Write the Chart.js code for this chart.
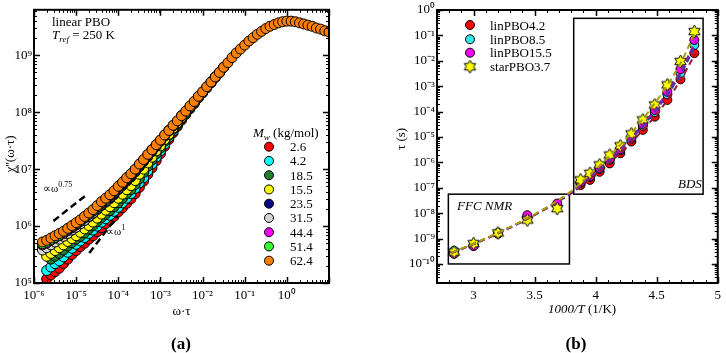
<!DOCTYPE html>
<html>
<head>
<meta charset="utf-8">
<script src="https://cdn.jsdelivr.net/npm/chart.js@4.4.0/dist/chart.umd.min.js"></script>
<style>
    html, body { margin: 0; padding: 0; background: #fff; overflow: hidden; }
    #wrap { position: relative; width: 726px; height: 353px; }
    #chartA { position: absolute; left: 0; top: 0; }
    #chartB { position: absolute; left: 360px; top: 0; }
</style>
</head>
<body>
<div id="wrap">
    <canvas id="chartA" width="360" height="353"></canvas>
    <canvas id="chartB" width="366" height="353"></canvas>
</div>
<script>
// ============================================================
// DATA - panel (a): log10(omega*tau) grid and log10(chi'') per Mw
// ============================================================
const logOmegaTau = [
    -5.8, -5.7, -5.6, -5.5, -5.4, -5.3, -5.2, -5.1, -5.0, -4.9,
    -4.8, -4.7, -4.6, -4.5, -4.4, -4.3, -4.2, -4.1, -4.0, -3.9,
    -3.8, -3.7, -3.6, -3.5, -3.4, -3.3, -3.2, -3.1, -3.0, -2.9,
    -2.8, -2.7, -2.6, -2.5, -2.4, -2.3, -2.2, -2.1, -2.0, -1.9,
    -1.8, -1.7, -1.6, -1.5, -1.4, -1.3, -1.2, -1.1, -1.0, -0.9,
    -0.8, -0.7, -0.6, -0.5, -0.4, -0.3, -0.2, -0.1, 0.0, 0.1,
    0.2, 0.3, 0.4, 0.5, 0.6, 0.7, 0.8, 0.9, 1.0
];

const chiMw2_6 = [
    null, 5.07, 5.14, 5.20, 5.26, 5.34, 5.42, 5.50, 5.57, 5.64,
    5.70, 5.77, 5.83, 5.90, 5.97, 6.04, 6.10, 6.17, 6.25, 6.32,
    6.40, 6.48, 6.57, 6.68, 6.79, 6.91, 7.02, 7.15, 7.27, 7.40,
    7.52, 7.64, 7.75, 7.86, 7.96, 8.06, 8.15, 8.25, 8.34, 8.43,
    8.52, 8.61, 8.69, 8.79
];
const chiMw4_2 = [
    null, 5.22, 5.28, 5.34, 5.39, 5.46, 5.54, 5.61, 5.68, 5.74,
    5.80, 5.87, 5.93, 6.00, 6.07, 6.13, 6.19, 6.26, 6.33, 6.41,
    6.49, 6.57, 6.66, 6.76, 6.85, 6.97, 7.09, 7.21, 7.32, 7.44,
    7.56, 7.67, 7.77, 7.88, 7.97, 8.07, 8.16, 8.26, 8.34, 8.43,
    8.52, 8.61, 8.69, 8.79
];
const chiMw18_5 = [
    null, null, 5.42, 5.47, 5.52, 5.58, 5.65, 5.71, 5.77, 5.82,
    5.88, 5.95, 6.01, 6.08, 6.15, 6.21, 6.27, 6.34, 6.41, 6.49,
    6.57, 6.64, 6.73, 6.83, 6.94, 7.05, 7.16, 7.27, 7.37, 7.49,
    7.59, 7.70, 7.79, 7.89, 7.99, 8.08, 8.17, 8.26, 8.35, 8.44,
    8.52, 8.62, 8.70, 8.79
];
const chiMw15_5 = [
    null, 5.47, 5.52, 5.57, 5.62, 5.67, 5.73, 5.78, 5.83, 5.89,
    5.95, 6.01, 6.07, 6.14, 6.21, 6.28, 6.34, 6.41, 6.49, 6.56,
    6.64, 6.71, 6.80, 6.91, 7.00, 7.11, 7.21, 7.32, 7.41, 7.52,
    7.61, 7.72, 7.81, 7.91, 8.00, 8.09, 8.17, 8.27, 8.35, 8.44,
    8.53, 8.62, 8.70, 8.79
];
const chiMw23_5 = [
    5.63, 5.67, 5.71, 5.75, 5.79, 5.83, 5.88, 5.93, 5.98, 6.04,
    6.10, 6.16, 6.22, 6.29, 6.36, 6.42, 6.48, 6.55, 6.64, 6.71,
    6.79, 6.86, 6.95, 7.04, 7.13, 7.22, 7.31, 7.40, 7.49, 7.58,
    7.67, 7.76, 7.84, 7.94
];
const chiMw31_5 = [
    5.58, 5.62, 5.67, 5.72, 5.77, 5.82, 5.87, 5.93, 5.98, 6.04,
    6.10, 6.17, 6.23, 6.31, 6.38, 6.44, 6.51, 6.58, 6.66, 6.74,
    6.82, 6.89, 6.98, 7.07, 7.15, 7.25, 7.33, 7.43, 7.51, 7.60,
    7.68
];
const chiMw44_4 = [
    5.67, 5.70, 5.75, 5.79, 5.83, 5.87, 5.92, 5.97, 6.02, 6.08,
    6.14, 6.20, 6.26, 6.33, 6.40, 6.47, 6.53, 6.60, 6.68, 6.75,
    6.83, 6.91, 6.99, 7.08, 7.16, 7.25, 7.34
];
const chiMw51_4 = [
    5.69, 5.72, 5.76, 5.80, 5.84, 5.89, 5.94, 5.99, 6.04, 6.09,
    6.15, 6.21, 6.27, 6.34, 6.41, 6.47, 6.54, 6.61, 6.69, 6.76,
    6.84, 6.91, 6.99, 7.08, 7.16, 7.25, 7.34
];
const chiMw62_4 = [
    5.72, 5.75, 5.79, 5.83, 5.87, 5.91, 5.96, 6.01, 6.06, 6.11,
    6.17, 6.23, 6.29, 6.36, 6.43, 6.49, 6.55, 6.62, 6.70, 6.77,
    6.85, 6.92, 7.00, 7.09, 7.17, 7.26, 7.34, 7.43, 7.51, 7.60,
    7.68, 7.77, 7.85, 7.94, 8.02, 8.11, 8.19, 8.28, 8.36, 8.45,
    8.53, 8.62, 8.70, 8.79, 8.87, 8.96, 9.04, 9.11, 9.18, 9.25,
    9.31, 9.37, 9.42, 9.47, 9.51, 9.54, 9.57, 9.59, 9.60, 9.60,
    9.59, 9.57, 9.55, 9.53, 9.51, 9.48, 9.46, 9.43, 9.41
];

const mwLabels = ['2.6', '4.2', '18.5', '15.5', '23.5', '31.5', '44.4', '51.4', '62.4'];
const mwSeries = [chiMw2_6, chiMw4_2, chiMw18_5, chiMw15_5, chiMw23_5, chiMw31_5, chiMw44_4, chiMw51_4, chiMw62_4];
const mwColors = ['#ff0000', '#00ffff', '#1e7f2e', '#ffff00', '#000080', '#d3d3d3', '#ff00ff', '#33ff33', '#ff8000'];

// guide power laws (omega*tau, chi'')
const guideSlope075 = [[2.89e-6, 1.23e6], [1.65e-5, 3.41e6]];
const guideSlope1 = [[2.05e-5, 3.35e5], [9.7e-5, 1.52e6]];

const aXTicks = [1e-6, 1e-5, 1e-4, 1e-3, 1e-2, 1e-1, 1e0];
const aYTicks = [1e5, 1e6, 1e7, 1e8, 1e9];

// ============================================================
// DATA - panel (b): tau vs 1000/T
// ============================================================
const invT = [2.84, 3.00, 3.20, 3.44, 3.685, 3.876, 3.953, 4.032, 4.115, 4.202, 4.292, 4.386, 4.484, 4.587, 4.695, 4.808];
const logTauLin4_2 = [-9.55, -9.27, -8.80, -8.18, -7.72, -6.89, -6.69, -6.37, -6.04, -5.64, -5.18, -4.72, -4.20, -3.54, -2.73, -1.70];
const logTauLin8_5 = [-9.48, -9.25, -8.78, -8.15, -7.68, -6.80, -6.58, -6.26, -5.90, -5.52, -5.07, -4.56, -4.02, -3.32, -2.48, -1.38];
const logTauLin15_5 = [-9.60, -9.30, -8.80, -8.08, -7.62, -6.78, -6.55, -6.22, -5.86, -5.48, -5.02, -4.50, -3.94, -3.22, -2.33, -1.18];
const logTauStar3_7 = [-9.53, -9.20, -8.78, -8.27, -7.82, -6.69, -6.43, -6.10, -5.71, -5.35, -4.88, -4.33, -3.74, -2.95, -2.03, -0.85];

const fitInvT = [2.82, 3.0, 3.2, 3.4, 3.6, 3.8, 3.9, 4.0, 4.1, 4.2, 4.3, 4.4, 4.5, 4.6, 4.7, 4.82];
const fitLin4_2 = [-9.57, -9.22, -8.80, -8.33, -7.81, -7.22, -6.86, -6.48, -6.07, -5.64, -5.17, -4.66, -4.10, -3.46, -2.72, -1.68];
const fitLin8_5 = [-9.56, -9.21, -8.79, -8.32, -7.79, -7.19, -6.80, -6.40, -5.98, -5.52, -5.03, -4.50, -3.91, -3.24, -2.50, -1.36];
const fitLin15_5 = [-9.56, -9.21, -8.78, -8.31, -7.78, -7.17, -6.78, -6.37, -5.94, -5.48, -4.98, -4.43, -3.83, -3.14, -2.37, -1.20];
const fitStar3_7 = [-9.55, -9.20, -8.77, -8.30, -7.77, -7.13, -6.70, -6.27, -5.81, -5.32, -4.79, -4.21, -3.57, -2.86, -2.06, -0.80];

const sampleLabels = ['linPBO4.2', 'linPBO8.5', 'linPBO15.5', 'starPBO3.7'];
const sampleColors = ['#ff0000', '#33e6e6', '#ff00ff', '#ffff00'];
const fitColors = ['#a0142d', '#2b3fbf', '#8a1f9a', '#a8a000'];

// regions (1000/T, tau)
const ffcBox = { x0: 2.793, x1: 3.785, y0: 1e-10, y1: 5.6e-8 };
const bdsBox = { x0: 3.82, x1: 4.88, y0: 5.6e-8, y1: 0.47 };

const bXTicks = [3, 3.5, 4, 4.5, 5];
const bYTicks = [1e-10, 1e-9, 1e-8, 1e-7, 1e-6, 1e-5, 1e-4, 1e-3, 1e-2, 1e-1, 1e0];

// ============================================================
// helpers
// ============================================================
const SERIF = '"Liberation Serif", "Times New Roman", Times, serif';
const f = (size, style) => (style ? style + ' ' : '') + size + 'px ' + SERIF;
const SUP = { '0': '⁰', '1': '¹', '2': '²', '3': '³', '4': '⁴', '5': '⁵', '6': '⁶', '7': '⁷', '8': '⁸', '9': '⁹', '-': '⁻' };

function pow10Label(v) {
    const e = Math.round(Math.log10(v));
    return '10' + String(e).split('').map(c => SUP[c]).join('');
}

function logTicks(min, max) {
    const out = [];
    const e0 = Math.floor(Math.log10(min)), e1 = Math.ceil(Math.log10(max));
    for (let e = e0; e <= e1; e++) {
        for (let m = 1; m < 10; m++) {
            const v = m * Math.pow(10, e);
            if (v >= min * 0.9999 && v <= max * 1.0001) out.push({ v, major: m === 1 });
        }
    }
    return out;
}

function linTicks(min, max, step, majorEvery) {
    const out = [];
    const n = Math.round((max - min) / step);
    for (let i = 0; i <= n; i++) {
        const v = min + i * step;
        const k = v / majorEvery;
        out.push({ v, major: Math.abs(k - Math.round(k)) < 1e-6 });
    }
    return out;
}

// frame + inward ticks on all four sides
function drawFrame(chart, xt, yt) {
    const { ctx, chartArea: a, scales } = chart;
    ctx.save();
    ctx.strokeStyle = '#000';
    [false, true].forEach(major => {
        ctx.lineWidth = major ? 1.5 : 1;
        ctx.beginPath();
        xt.filter(t => t.major === major).forEach(t => {
            const px = Math.round(scales.x.getPixelForValue(t.v)) + 0.5;
            const len = major ? 6 : 3;
            ctx.moveTo(px, a.bottom); ctx.lineTo(px, a.bottom - len);
            ctx.moveTo(px, a.top); ctx.lineTo(px, a.top + len);
        });
        yt.filter(t => t.major === major).forEach(t => {
            const py = Math.round(scales.y.getPixelForValue(t.v)) + 0.5;
            const len = major ? 6 : 3;
            ctx.moveTo(a.left, py); ctx.lineTo(a.left + len, py);
            ctx.moveTo(a.right, py); ctx.lineTo(a.right - len, py);
        });
        ctx.stroke();
    });
    ctx.lineWidth = 2;
    ctx.strokeRect(a.left, a.top, a.right - a.left, a.bottom - a.top);
    ctx.restore();
}

// parts: [text, font, dy]
function richText(ctx, x, y, parts, align) {
    let w = 0;
    parts.forEach(p => { ctx.font = p[1]; w += ctx.measureText(p[0]).width; });
    let cx = align === 'center' ? x - w / 2 : x;
    parts.forEach(p => {
        ctx.font = p[1];
        ctx.fillText(p[0], cx, y + (p[2] || 0));
        cx += ctx.measureText(p[0]).width;
    });
}

function makeHexagram(size, fill) {
    const c = document.createElement('canvas');
    c.width = size; c.height = size;
    const g = c.getContext('2d');
    const R = size / 2 - 1, r = R * 0.58, m = size / 2;
    g.beginPath();
    for (let k = 0; k < 12; k++) {
        const ang = -Math.PI / 2 + k * Math.PI / 6;
        const rr = k % 2 === 0 ? R : r;
        g.lineTo(m + rr * Math.cos(ang), m + rr * Math.sin(ang));
    }
    g.closePath();
    g.fillStyle = fill; g.fill();
    g.lineWidth = 1; g.strokeStyle = '#000'; g.stroke();
    return c;
}

function axisOpts(type, min, max, tickVals, fmt, fit, pad) {
    return {
        type, min, max,
        afterBuildTicks: s => { s.ticks = tickVals.map(v => ({ value: v })); },
        afterFit: fit,
        grid: { display: false, drawTicks: false },
        border: { display: false },
        ticks: {
            autoSkip: false, maxRotation: 0, padding: pad, color: '#000',
            font: { family: SERIF, size: 13 }, callback: fmt
        }
    };
}

const baseOptions = {
    responsive: false, animation: false, devicePixelRatio: 1, events: [],
    plugins: { legend: { display: false }, tooltip: { enabled: false } }
};

// ============================================================
// panel (a)
// ============================================================
function toPoints(logVals) {
    const pts = [];
    logVals.forEach((v, i) => {
        if (v !== null) pts.push({ x: Math.pow(10, logOmegaTau[i]), y: Math.pow(10, v) });
    });
    return pts;
}

const datasetsA = mwSeries.map((s, i) => ({
    label: mwLabels[i],
    data: toPoints(s),
    pointRadius: 5,
    pointBackgroundColor: mwColors[i],
    pointBorderColor: '#000',
    pointBorderWidth: 1,
    showLine: false,
    clip: 0,
    order: 20 - i
}));
[guideSlope075, guideSlope1].forEach(g => {
    datasetsA.push({
        type: 'line',
        data: g.map(p => ({ x: p[0], y: p[1] })),
        borderColor: '#000', borderWidth: 2.5, borderDash: [7, 4],
        pointRadius: 0, showLine: true, fill: false, order: 0
    });
});

const panelAPlugin = {
    id: 'panelA',
    afterDraw(chart) {
        drawFrame(chart, logTicks(1e-6, 1e1), logTicks(1e5, 6.3e9));
        const ctx = chart.ctx;
        ctx.save();
        ctx.fillStyle = '#000';
        ctx.textAlign = 'left';
        ctx.textBaseline = 'alphabetic';
        richText(ctx, 52, 25.5, [['linear PBO', f(13)]]);
        richText(ctx, 52, 38.5, [['T', f(13, 'italic')], ['ref', f(9, 'italic'), 3], [' = 250 K', f(13)]]);
        richText(ctx, 43, 192, [['∝ω', f(11)], ['0.75', f(8), -5]]);
        richText(ctx, 106, 235, [['∝ω', f(11)], ['1', f(8), -5]]);

        // legend
        richText(ctx, 253, 137, [['M', f(13, 'italic')], ['w', f(9, 'italic'), 3], [' (kg/mol)', f(13)]]);
        mwLabels.forEach((lab, i) => {
            const y = 146.7 + 14.25 * i;
            ctx.beginPath();
            ctx.arc(269, y, 4.5, 0, Math.PI * 2);
            ctx.fillStyle = mwColors[i];
            ctx.fill();
            ctx.lineWidth = 1;
            ctx.strokeStyle = '#000';
            ctx.stroke();
            ctx.fillStyle = '#000';
            richText(ctx, 290, y + 4.5, [[lab, f(13)]]);
        });

        // titles
        richText(ctx, 181.5, 315, [['ω·τ', f(13)]], 'center');
        richText(ctx, 181, 349, [['(a)', f(17, 'bold')]], 'center');
        ctx.translate(11, 154);
        ctx.rotate(-Math.PI / 2);
        ctx.textBaseline = 'middle';
        richText(ctx, 0, 0, [["χ''(ω·τ)", f(13)]], 'center');
        ctx.restore();
    }
};

new Chart(document.getElementById('chartA'), {
    type: 'scatter',
    data: { datasets: datasetsA },
    options: {
        ...baseOptions,
        layout: { padding: { left: 0, top: 2, right: 31, bottom: 0 }, autoPadding: false },
        scales: {
            x: axisOpts('logarithmic', 1e-6, 1e1, aXTicks, v => pow10Label(v), s => { s.height = 70; }, 5),
            y: axisOpts('logarithmic', 1e5, 6.3e9, aYTicks, v => pow10Label(v), s => { s.width = 34; }, 2)
        }
    },
    plugins: [panelAPlugin]
});

// ============================================================
// panel (b)
// ============================================================
const starImg = makeHexagram(15, '#ffff00');
const tauSeries = [logTauLin4_2, logTauLin8_5, logTauLin15_5, logTauStar3_7];
const fitSeries = [fitLin4_2, fitLin8_5, fitLin15_5, fitStar3_7];

const datasetsB = [];
tauSeries.forEach((s, i) => {
    datasetsB.push({
        label: sampleLabels[i],
        data: invT.map((x, j) => ({ x, y: Math.pow(10, s[j]) })),
        pointStyle: i === 3 ? starImg : 'circle',
        pointRadius: 4.5,
        pointBackgroundColor: sampleColors[i],
        pointBorderColor: '#000',
        pointBorderWidth: 1,
        showLine: false,
        clip: 0,
        order: 30 - i
    });
});
fitSeries.forEach((s, i) => {
    datasetsB.push({
        type: 'line',
        data: fitInvT.map((x, j) => ({ x, y: Math.pow(10, s[j]) })),
        borderColor: fitColors[i], borderWidth: 2, borderDash: [6, 4],
        cubicInterpolationMode: 'monotone',
        pointRadius: 0, showLine: true, fill: false, clip: 0,
        order: 10 - i
    });
});

const panelBPlugin = {
    id: 'panelB',
    beforeDatasetsDraw(chart) {
        const { ctx, scales } = chart;
        ctx.save();
        ctx.strokeStyle = '#000';
        ctx.lineWidth = 1.5;
        [ffcBox, bdsBox].forEach(b => {
            const x0 = scales.x.getPixelForValue(b.x0), x1 = scales.x.getPixelForValue(b.x1);
            const y0 = scales.y.getPixelForValue(b.y0), y1 = scales.y.getPixelForValue(b.y1);
            ctx.strokeRect(x0, y1, x1 - x0, y0 - y1);
        });
        ctx.restore();
    },
    afterDraw(chart) {
        drawFrame(chart, linTicks(2.7, 5.0, 0.1, 0.5), logTicks(1.78e-11, 1));
        const ctx = chart.ctx;
        ctx.save();
        ctx.fillStyle = '#000';
        ctx.textAlign = 'left';
        ctx.textBaseline = 'alphabetic';
        richText(ctx, 97, 210, [['FFC NMR', f(13, 'italic')]]);
        richText(ctx, 318, 188, [['BDS', f(13, 'italic')]]);

        // legend
        sampleLabels.forEach((lab, i) => {
            const y = [25, 39.3, 52.7, 66.7][i];
            if (i === 3) {
                ctx.drawImage(starImg, 110 - starImg.width / 2, y - starImg.height / 2);
            } else {
                ctx.beginPath();
                ctx.arc(110, y, 4.5, 0, Math.PI * 2);
                ctx.fillStyle = sampleColors[i];
                ctx.fill();
                ctx.lineWidth = 1;
                ctx.strokeStyle = '#000';
                ctx.stroke();
            }
            ctx.fillStyle = '#000';
            richText(ctx, 130, y + 4.5, [[lab, f(13)]]);
        });

        // titles
        richText(ctx, 222, 313, [['1000/T', f(13, 'italic')], [' (1/K)', f(13)]], 'center');
        richText(ctx, 216, 349, [['(b)', f(17, 'bold')]], 'center');
        ctx.translate(42, 139);
        ctx.rotate(-Math.PI / 2);
        ctx.textBaseline = 'middle';
        richText(ctx, 0, 0, [['τ (s)', f(13)]], 'center');
        ctx.restore();
    }
};

new Chart(document.getElementById('chartB'), {
    type: 'scatter',
    data: { datasets: datasetsB },
    options: {
        ...baseOptions,
        layout: { padding: { left: 0, top: 10, right: 3, bottom: 0 }, autoPadding: false },
        scales: {
            x: axisOpts('linear', 2.7, 5.0, bXTicks, v => String(v), s => { s.height = 70; }, 5),
            y: axisOpts('logarithmic', 1.78e-11, 1, bYTicks, v => pow10Label(v), s => { s.width = 77; }, 2)
        }
    },
    plugins: [panelBPlugin]
});
</script>
</body>
</html>
